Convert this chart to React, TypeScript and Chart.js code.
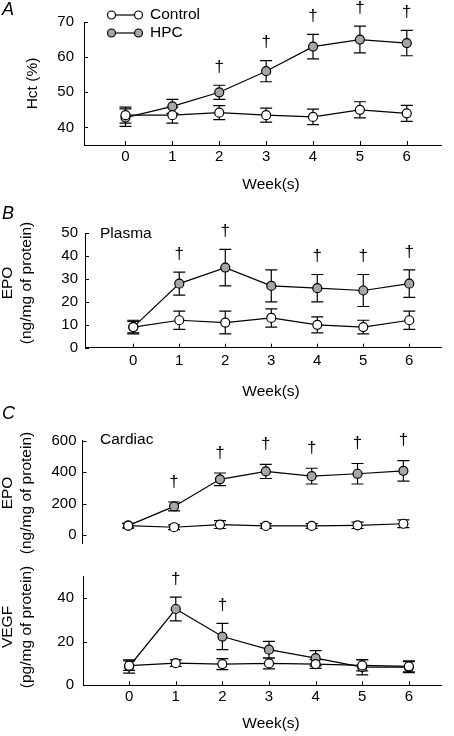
import React, { useEffect, useRef } from 'react';
import { Chart, registerables } from 'chart.js';

Chart.register(...registerables);

// ---------- data ----------
const weeks = [0, 1, 2, 3, 4, 5, 6];
const weekLabels = ['0', '1', '2', '3', '4', '5', '6'];
const seriesNames = ['Control', 'HPC'];

// Panel A: haematocrit (%)
const hctTicks = [40, 50, 60, 70];
const hctControl = [43.5, 43.5, 44.2, 43.5, 43.0, 45.0, 44.0];
const hctControlErr = [2.3, 2.3, 2.0, 2.0, 2.2, 2.3, 2.3];
const hctHpc = [42.8, 46.0, 50.0, 56.0, 63.0, 65.0, 64.0];
const hctHpcErr = [2.5, 2.0, 2.0, 3.0, 3.5, 3.8, 3.6];
const hctSig = [false, false, true, true, true, true, true];

// Panel B: plasma EPO
const plasmaTicks = [0, 10, 20, 30, 40, 50];
const plasmaControl = [9, 12, 11, 13, 10, 9, 12];
const plasmaControlErr = [3, 4, 5, 4, 3.5, 3, 4];
const plasmaHpc = [9, 28, 35, 27, 26, 25, 28];
const plasmaHpcErr = [2.5, 5, 8, 7, 6, 7, 6];
const plasmaSig = [false, true, true, false, true, true, true];

// Panel C (top): cardiac EPO
const cardiacTicks = [0, 200, 400, 600];
const cardiacControl = [60, 50, 67, 58, 58, 62, 72];
const cardiacControlErr = [15, 15, 25, 15, 15, 20, 25];
const cardiacHpc = [60, 182, 354, 404, 374, 389, 408];
const cardiacHpcErr = [15, 28, 40, 45, 50, 65, 65];
const cardiacSig = [false, true, true, true, true, true, true];

// Panel C (bottom): cardiac VEGF
const vegfTicks = [0, 20, 40];
const vegfControl = [9, 10.1, 9.7, 10, 9.7, 9.1, 8.7];
const vegfControlErr = [2.2, 1.5, 2.5, 2.5, 2, 2.5, 2.5];
const vegfHpc = [8.6, 34.9, 22.3, 16.3, 12.4, 8.3, 8.3];
const vegfHpcErr = [3, 5.4, 6, 3.8, 3.5, 3.5, 2.5];
const vegfSig = [false, true, true, false, false, false, false];

// ---------- styling ----------
const FONT = '"Liberation Sans", Arial, Helvetica, sans-serif';
const HPC_FILL = '#a6a6a6';
const INK = '#000';
const W = 454;

Chart.defaults.font.family = FONT;
Chart.defaults.color = INK;

type Area = { top: number; bottom: number; left: number; right: number };
type PanelDef = {
  top: number;
  height: number;
  area: Area;
  xMin: number;
  xMax: number;
  yMin: number;
  yMax: number;
  yTicks: number[];
  showX: boolean;
  yPad: number;
  xPad: number;
  control: number[];
  controlErr: number[];
  hpc: number[];
  hpcErr: number[];
  sig: boolean[];
  daggerGap: number;
  decorate: (ctx: CanvasRenderingContext2D, chart: any) => void;
};

function txt(ctx: CanvasRenderingContext2D, s: string, x: number, y: number, size = 15.5, align: CanvasTextAlign = 'center', italic = false) {
  ctx.save();
  ctx.font = `${italic ? 'italic ' : ''}${size}px ${FONT}`;
  ctx.fillStyle = INK;
  ctx.textAlign = align;
  ctx.textBaseline = 'middle';
  ctx.fillText(s, x, y);
  ctx.restore();
}

function vtxt(ctx: CanvasRenderingContext2D, s: string, x: number, y: number, size = 15.5) {
  ctx.save();
  ctx.translate(x, y);
  ctx.rotate(-Math.PI / 2);
  ctx.font = `${size}px ${FONT}`;
  ctx.fillStyle = INK;
  ctx.textAlign = 'center';
  ctx.textBaseline = 'middle';
  ctx.fillText(s, 0, 0);
  ctx.restore();
}

function PanelChart({ def }: { def: PanelDef }) {
  const ref = useRef<HTMLCanvasElement>(null);
  useEffect(() => {
    const canvas = ref.current!;
    const a = def.area;

    const overlay = {
      id: 'overlay',
      beforeDatasetsDraw(chart: any) {
        const ctx = chart.ctx as CanvasRenderingContext2D;
        const xs = chart.scales.x;
        const ys = chart.scales.y;
        ctx.save();
        ctx.strokeStyle = INK;
        ctx.lineWidth = 1.2;
        chart.data.datasets.forEach((ds: any) => {
          ds.data.forEach((p: any, i: number) => {
            const e = ds.errorBars[i];
            const x = xs.getPixelForValue(p.x);
            const y1 = ys.getPixelForValue(p.y + e);
            const y2 = ys.getPixelForValue(p.y - e);
            ctx.beginPath();
            ctx.moveTo(x, y1);
            ctx.lineTo(x, y2);
            ctx.moveTo(x - 6, y1);
            ctx.lineTo(x + 6, y1);
            ctx.moveTo(x - 6, y2);
            ctx.lineTo(x + 6, y2);
            ctx.stroke();
          });
        });
        ctx.restore();
      },
      afterDraw(chart: any) {
        const ctx = chart.ctx as CanvasRenderingContext2D;
        const xs = chart.scales.x;
        const ys = chart.scales.y;
        const ca = chart.chartArea;
        ctx.save();
        ctx.strokeStyle = INK;
        ctx.lineWidth = 1;
        // inward tick marks
        ys.ticks.forEach((t: any) => {
          const y = Math.round(ys.getPixelForValue(t.value)) + 0.5;
          ctx.beginPath();
          ctx.moveTo(ca.left, y);
          ctx.lineTo(ca.left + 4, y);
          ctx.stroke();
        });
        if (def.showX) {
          xs.ticks.forEach((t: any) => {
            const x = Math.round(xs.getPixelForValue(t.value)) + 0.5;
            ctx.beginPath();
            ctx.moveTo(x, ca.bottom);
            ctx.lineTo(x, ca.bottom - 4);
            ctx.stroke();
          });
        }
        ctx.restore();
        // significance daggers above HPC error bars
        def.sig.forEach((s, i) => {
          if (!s) return;
          const x = xs.getPixelForValue(weeks[i]);
          const yTop = ys.getPixelForValue(def.hpc[i] + def.hpcErr[i]);
          txt(ctx, '\u2020', x, yTop - def.daggerGap, 17);
        });
        def.decorate(ctx, chart);
      },
    };

    const mk = (vals: number[], errs: number[], fill: string, label: string) => ({
      label,
      data: weeks.map((w, i) => ({ x: w, y: vals[i] })),
      errorBars: errs,
      borderColor: INK,
      borderWidth: 1.2,
      pointBackgroundColor: fill,
      pointBorderColor: INK,
      pointBorderWidth: 1.2,
      pointRadius: 4.5,
      tension: 0,
      fill: false,
      clip: false,
    });

    const chart = new Chart(canvas, {
      type: 'line',
      data: {
        datasets: [
          mk(def.control, def.controlErr, '#ffffff', seriesNames[0]),
          mk(def.hpc, def.hpcErr, HPC_FILL, seriesNames[1]),
        ] as any,
      },
      options: {
        responsive: false,
        animation: false,
        devicePixelRatio: 1,
        layout: {
          padding: {
            top: a.top,
            left: 0,
            right: W - a.right,
            bottom: def.showX ? 0 : def.height - a.bottom,
          },
        },
        plugins: { legend: { display: false }, tooltip: { enabled: false } },
        scales: {
          x: {
            type: 'linear',
            display: def.showX,
            min: def.xMin,
            max: def.xMax,
            afterBuildTicks: (ax: any) => {
              ax.ticks = weeks.map((v) => ({ value: v }));
            },
            afterFit: (s: any) => {
              s.height = def.height - a.bottom;
            },
            grid: { display: false, drawTicks: false },
            border: { display: true, color: INK, width: 1 },
            ticks: {
              padding: def.xPad,
              autoSkip: false,
              maxRotation: 0,
              color: INK,
              font: { family: FONT, size: 15 },
              callback: (v: any) => weekLabels[weeks.indexOf(Number(v))] ?? '',
            },
          },
          y: {
            type: 'linear',
            min: def.yMin,
            max: def.yMax,
            afterBuildTicks: (ax: any) => {
              ax.ticks = def.yTicks.map((v) => ({ value: v }));
            },
            afterFit: (s: any) => {
              s.width = a.left;
            },
            grid: { display: false, drawTicks: false },
            border: { display: true, color: INK, width: 1 },
            ticks: {
              padding: def.yPad,
              color: INK,
              font: { family: FONT, size: 15 },
            },
          },
        },
      } as any,
      plugins: [overlay],
    });
    return () => chart.destroy();
  }, [def]);

  return (
    <canvas
      ref={ref}
      width={W}
      height={def.height}
      style={{ position: 'absolute', left: 0, top: def.top, width: W, height: def.height }}
    />
  );
}

const panels: PanelDef[] = [
  {
    top: 0,
    height: 195,
    area: { top: 22, bottom: 145, left: 84, right: 441 },
    xMin: -0.885,
    xMax: 6.73,
    yMin: 35,
    yMax: 70,
    yTicks: hctTicks,
    showX: true,
    yPad: 10,
    xPad: 3,
    control: hctControl,
    controlErr: hctControlErr,
    hpc: hctHpc,
    hpcErr: hctHpcErr,
    sig: hctSig,
    daggerGap: 18,
    decorate: (ctx) => {
      txt(ctx, 'A', 2, 10, 18, 'left', true);
      vtxt(ctx, 'Hct (%)', 32.5, 83.5);
      txt(ctx, 'Week(s)', 271, 185);
      // legend
      const items: [number, string][] = [[15, '#ffffff'], [33, HPC_FILL]];
      items.forEach(([y, fill], k) => {
        ctx.save();
        ctx.strokeStyle = INK;
        ctx.lineWidth = 1.2;
        ctx.beginPath();
        ctx.moveTo(111.5, y);
        ctx.lineTo(138.5, y);
        ctx.stroke();
        [111.5, 138.5].forEach((cx) => {
          ctx.beginPath();
          ctx.arc(cx, y, 4, 0, Math.PI * 2);
          ctx.fillStyle = fill;
          ctx.fill();
          ctx.stroke();
        });
        ctx.restore();
        txt(ctx, seriesNames[k], 150, y, 15.5, 'left');
      });
    },
  },
  {
    top: 195,
    height: 205,
    area: { top: 38.3, bottom: 152.7, left: 85, right: 441 },
    xMin: -1.05,
    xMax: 6.69,
    yMin: 0,
    yMax: 50,
    yTicks: plasmaTicks,
    showX: true,
    yPad: 7,
    xPad: 4,
    control: plasmaControl,
    controlErr: plasmaControlErr,
    hpc: plasmaHpc,
    hpcErr: plasmaHpcErr,
    sig: plasmaSig,
    daggerGap: 18,
    decorate: (ctx) => {
      txt(ctx, 'B', 2, 18.5, 18, 'left', true);
      vtxt(ctx, 'EPO', 8, 88);
      vtxt(ctx, '(ng/mg of protein)', 26.5, 88);
      txt(ctx, 'Plasma', 100, 38.3, 15.5, 'left');
      txt(ctx, 'Week(s)', 271, 196.5);
    },
  },
  {
    top: 400,
    height: 158,
    area: { top: 40.5, bottom: 153.5, left: 82.5, right: 441 },
    xMin: -0.997,
    xMax: 6.82,
    yMin: -50,
    yMax: 600,
    yTicks: cardiacTicks,
    showX: false,
    yPad: 6,
    xPad: 3,
    control: cardiacControl,
    controlErr: cardiacControlErr,
    hpc: cardiacHpc,
    hpcErr: cardiacHpcErr,
    sig: cardiacSig,
    daggerGap: 20,
    decorate: (ctx) => {
      txt(ctx, 'C', 2, 13.5, 18, 'left', true);
      vtxt(ctx, 'EPO', 8, 93);
      vtxt(ctx, '(ng/mg of protein)', 26.5, 93);
      txt(ctx, 'Cardiac', 100, 40, 15.5, 'left');
    },
  },
  {
    top: 558,
    height: 178,
    area: { top: 11, bottom: 127.3, left: 83, right: 441 },
    xMin: -0.99,
    xMax: 6.69,
    yMin: 0,
    yMax: 50,
    yTicks: vegfTicks,
    showX: true,
    yPad: 9,
    xPad: 3,
    control: vegfControl,
    controlErr: vegfControlErr,
    hpc: vegfHpc,
    hpcErr: vegfHpcErr,
    sig: vegfSig,
    daggerGap: 18,
    decorate: (ctx) => {
      vtxt(ctx, 'VEGF', 8, 69);
      vtxt(ctx, '(pg/mg of protein)', 26.5, 69);
      txt(ctx, 'Week(s)', 271, 166);
    },
  },
];

export default function App() {
  return (
    <div style={{ position: 'absolute', left: 0, top: 0, width: W, height: 736, background: '#fff', overflow: 'hidden' }}>
      {panels.map((p, i) => (
        <PanelChart key={i} def={p} />
      ))}
    </div>
  );
}
